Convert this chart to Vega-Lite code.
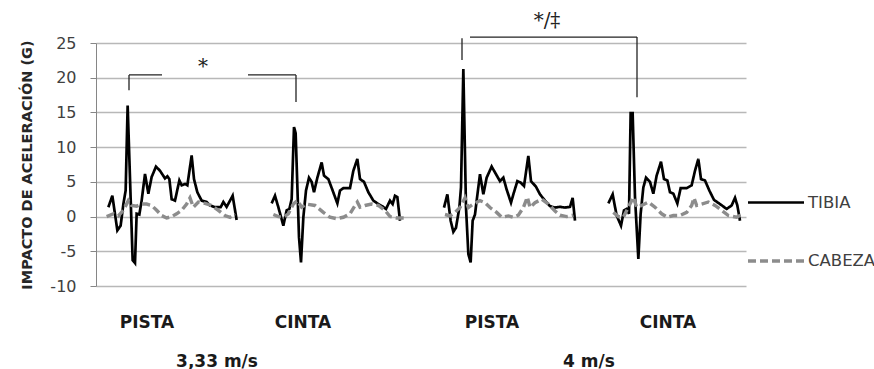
{
  "$schema": "https://vega.github.io/schema/vega-lite/v6.json",
  "width": 650,
  "height": 243,
  "autosize": {"type": "none"},
  "padding": {"left": 96, "top": 43, "right": 128, "bottom": 83},
  "background": "white",
  "config": {"view": {"stroke": null}},
  "datasets": {
    "series": [
      {"s":"TIBIA","g":1,"t":2.47,"v":1.35},{"s":"TIBIA","g":1,"t":3.27,"v":3.0},{"s":"TIBIA","g":1,"t":4.27,"v":-2.0},{"s":"TIBIA","g":1,"t":4.93,"v":-1.3},{"s":"TIBIA","g":1,"t":5.47,"v":1.8},{"s":"TIBIA","g":1,"t":5.93,"v":3.75},{"s":"TIBIA","g":1,"t":6.33,"v":16.0},{"s":"TIBIA","g":1,"t":7.33,"v":-6.3},{"s":"TIBIA","g":1,"t":7.8,"v":-6.7},{"s":"TIBIA","g":1,"t":8.13,"v":0.4},{"s":"TIBIA","g":1,"t":8.67,"v":0.3},{"s":"TIBIA","g":1,"t":9.13,"v":2.3},{"s":"TIBIA","g":1,"t":9.8,"v":6.15},{"s":"TIBIA","g":1,"t":10.47,"v":3.3},{"s":"TIBIA","g":1,"t":11.13,"v":5.7},{"s":"TIBIA","g":1,"t":12.0,"v":7.2},{"s":"TIBIA","g":1,"t":12.8,"v":6.6},{"s":"TIBIA","g":1,"t":13.8,"v":5.5},{"s":"TIBIA","g":1,"t":14.27,"v":5.8},{"s":"TIBIA","g":1,"t":14.67,"v":5.4},{"s":"TIBIA","g":1,"t":15.13,"v":2.5},{"s":"TIBIA","g":1,"t":15.8,"v":2.3},{"s":"TIBIA","g":1,"t":16.67,"v":5.2},{"s":"TIBIA","g":1,"t":17.13,"v":4.5},{"s":"TIBIA","g":1,"t":17.8,"v":4.7},{"s":"TIBIA","g":1,"t":18.27,"v":4.5},{"s":"TIBIA","g":1,"t":19.13,"v":8.8},{"s":"TIBIA","g":1,"t":19.6,"v":5.4},{"s":"TIBIA","g":1,"t":20.27,"v":3.5},{"s":"TIBIA","g":1,"t":21.13,"v":2.3},{"s":"TIBIA","g":1,"t":22.13,"v":2.1},{"s":"TIBIA","g":1,"t":22.8,"v":1.6},{"s":"TIBIA","g":1,"t":23.8,"v":1.35},{"s":"TIBIA","g":1,"t":24.93,"v":1.35},{"s":"TIBIA","g":1,"t":25.47,"v":2.1},{"s":"TIBIA","g":1,"t":26.13,"v":1.4},{"s":"TIBIA","g":1,"t":27.33,"v":3.0},{"s":"TIBIA","g":1,"t":28.13,"v":-0.5},
      {"s":"CABEZA","g":1,"t":2.13,"v":0},{"s":"CABEZA","g":1,"t":3.47,"v":0.4},{"s":"CABEZA","g":1,"t":4.47,"v":0.1},{"s":"CABEZA","g":1,"t":5.47,"v":0.9},{"s":"CABEZA","g":1,"t":6.47,"v":2.3},{"s":"CABEZA","g":1,"t":7.13,"v":1.6},{"s":"CABEZA","g":1,"t":8.13,"v":1.5},{"s":"CABEZA","g":1,"t":9.13,"v":1.8},{"s":"CABEZA","g":1,"t":10.13,"v":1.8},{"s":"CABEZA","g":1,"t":11.13,"v":1.6},{"s":"CABEZA","g":1,"t":12.13,"v":0.9},{"s":"CABEZA","g":1,"t":13.13,"v":0.15},{"s":"CABEZA","g":1,"t":14.13,"v":-0.2},{"s":"CABEZA","g":1,"t":15.13,"v":0},{"s":"CABEZA","g":1,"t":16.13,"v":0.4},{"s":"CABEZA","g":1,"t":17.13,"v":0.9},{"s":"CABEZA","g":1,"t":18.13,"v":1.8},{"s":"CABEZA","g":1,"t":18.8,"v":2.7},{"s":"CABEZA","g":1,"t":19.47,"v":1.35},{"s":"CABEZA","g":1,"t":20.47,"v":2.1},{"s":"CABEZA","g":1,"t":21.8,"v":1.9},{"s":"CABEZA","g":1,"t":23.13,"v":1.6},{"s":"CABEZA","g":1,"t":24.47,"v":0.9},{"s":"CABEZA","g":1,"t":25.8,"v":0.15},{"s":"CABEZA","g":1,"t":26.8,"v":-0.1},{"s":"CABEZA","g":1,"t":27.8,"v":0.4},
      {"s":"TIBIA","g":2,"t":35.13,"v":1.9},{"s":"TIBIA","g":2,"t":35.8,"v":3.0},{"s":"TIBIA","g":2,"t":36.47,"v":1.35},{"s":"TIBIA","g":2,"t":37.47,"v":-1.3},{"s":"TIBIA","g":2,"t":38.13,"v":0.9},{"s":"TIBIA","g":2,"t":38.67,"v":1.1},{"s":"TIBIA","g":2,"t":39.13,"v":2.5},{"s":"TIBIA","g":2,"t":39.6,"v":12.9},{"s":"TIBIA","g":2,"t":39.93,"v":12.0},{"s":"TIBIA","g":2,"t":40.6,"v":-3.0},{"s":"TIBIA","g":2,"t":41.0,"v":-6.6},{"s":"TIBIA","g":2,"t":41.47,"v":-0.1},{"s":"TIBIA","g":2,"t":42.0,"v":3.75},{"s":"TIBIA","g":2,"t":42.6,"v":5.6},{"s":"TIBIA","g":2,"t":43.13,"v":5.0},{"s":"TIBIA","g":2,"t":43.6,"v":3.5},{"s":"TIBIA","g":2,"t":44.27,"v":5.6},{"s":"TIBIA","g":2,"t":45.13,"v":7.8},{"s":"TIBIA","g":2,"t":45.6,"v":5.9},{"s":"TIBIA","g":2,"t":46.47,"v":5.4},{"s":"TIBIA","g":2,"t":47.33,"v":3.75},{"s":"TIBIA","g":2,"t":48.27,"v":1.9},{"s":"TIBIA","g":2,"t":48.8,"v":3.75},{"s":"TIBIA","g":2,"t":49.47,"v":4.1},{"s":"TIBIA","g":2,"t":50.8,"v":4.1},{"s":"TIBIA","g":2,"t":51.47,"v":6.6},{"s":"TIBIA","g":2,"t":52.27,"v":8.3},{"s":"TIBIA","g":2,"t":52.8,"v":5.4},{"s":"TIBIA","g":2,"t":53.6,"v":5.0},{"s":"TIBIA","g":2,"t":54.47,"v":3.5},{"s":"TIBIA","g":2,"t":55.47,"v":2.3},{"s":"TIBIA","g":2,"t":56.47,"v":1.8},{"s":"TIBIA","g":2,"t":57.33,"v":1.45},{"s":"TIBIA","g":2,"t":58.0,"v":1.1},{"s":"TIBIA","g":2,"t":58.8,"v":2.3},{"s":"TIBIA","g":2,"t":59.33,"v":1.8},{"s":"TIBIA","g":2,"t":59.8,"v":3.0},{"s":"TIBIA","g":2,"t":60.27,"v":2.8},{"s":"TIBIA","g":2,"t":60.8,"v":-0.6},
      {"s":"CABEZA","g":2,"t":35.47,"v":0.3},{"s":"CABEZA","g":2,"t":36.47,"v":0},{"s":"CABEZA","g":2,"t":37.47,"v":-0.1},{"s":"CABEZA","g":2,"t":38.47,"v":0.4},{"s":"CABEZA","g":2,"t":39.47,"v":1.8},{"s":"CABEZA","g":2,"t":40.27,"v":2.3},{"s":"CABEZA","g":2,"t":41.13,"v":1.35},{"s":"CABEZA","g":2,"t":42.13,"v":1.8},{"s":"CABEZA","g":2,"t":43.8,"v":1.6},{"s":"CABEZA","g":2,"t":45.47,"v":0.6},{"s":"CABEZA","g":2,"t":46.8,"v":-0.1},{"s":"CABEZA","g":2,"t":48.13,"v":-0.3},{"s":"CABEZA","g":2,"t":49.47,"v":-0.1},{"s":"CABEZA","g":2,"t":50.8,"v":0.4},{"s":"CABEZA","g":2,"t":51.8,"v":1.6},{"s":"CABEZA","g":2,"t":52.27,"v":2.1},{"s":"CABEZA","g":2,"t":52.8,"v":1.35},{"s":"CABEZA","g":2,"t":53.8,"v":1.6},{"s":"CABEZA","g":2,"t":55.13,"v":1.8},{"s":"CABEZA","g":2,"t":56.47,"v":1.6},{"s":"CABEZA","g":2,"t":57.8,"v":0.9},{"s":"CABEZA","g":2,"t":58.8,"v":0},{"s":"CABEZA","g":2,"t":60.13,"v":-0.2},{"s":"CABEZA","g":2,"t":62.13,"v":-0.2},
      {"s":"TIBIA","g":3,"t":69.6,"v":1.3},{"s":"TIBIA","g":3,"t":70.27,"v":3.2},{"s":"TIBIA","g":3,"t":70.93,"v":-0.6},{"s":"TIBIA","g":3,"t":71.47,"v":-2.2},{"s":"TIBIA","g":3,"t":72.0,"v":-1.6},{"s":"TIBIA","g":3,"t":72.67,"v":1.3},{"s":"TIBIA","g":3,"t":73.0,"v":4.2},{"s":"TIBIA","g":3,"t":73.47,"v":21.25},{"s":"TIBIA","g":3,"t":74.0,"v":1.3},{"s":"TIBIA","g":3,"t":74.47,"v":-5.4},{"s":"TIBIA","g":3,"t":74.93,"v":-6.6},{"s":"TIBIA","g":3,"t":75.33,"v":-0.6},{"s":"TIBIA","g":3,"t":75.8,"v":0.3},{"s":"TIBIA","g":3,"t":76.13,"v":2.3},{"s":"TIBIA","g":3,"t":76.8,"v":6.1},{"s":"TIBIA","g":3,"t":77.47,"v":3.2},{"s":"TIBIA","g":3,"t":78.13,"v":5.6},{"s":"TIBIA","g":3,"t":79.13,"v":7.2},{"s":"TIBIA","g":3,"t":80.0,"v":6.1},{"s":"TIBIA","g":3,"t":80.8,"v":5.1},{"s":"TIBIA","g":3,"t":81.47,"v":5.6},{"s":"TIBIA","g":3,"t":82.13,"v":3.9},{"s":"TIBIA","g":3,"t":83.0,"v":2.0},{"s":"TIBIA","g":3,"t":83.47,"v":3.2},{"s":"TIBIA","g":3,"t":84.27,"v":5.1},{"s":"TIBIA","g":3,"t":84.93,"v":4.9},{"s":"TIBIA","g":3,"t":85.6,"v":4.4},{"s":"TIBIA","g":3,"t":86.47,"v":8.75},{"s":"TIBIA","g":3,"t":87.0,"v":5.1},{"s":"TIBIA","g":3,"t":88.0,"v":4.3},{"s":"TIBIA","g":3,"t":88.8,"v":3.2},{"s":"TIBIA","g":3,"t":89.8,"v":2.3},{"s":"TIBIA","g":3,"t":90.8,"v":1.5},{"s":"TIBIA","g":3,"t":91.8,"v":1.3},{"s":"TIBIA","g":3,"t":92.8,"v":1.4},{"s":"TIBIA","g":3,"t":93.8,"v":1.3},{"s":"TIBIA","g":3,"t":94.8,"v":1.4},{"s":"TIBIA","g":3,"t":95.33,"v":2.7},{"s":"TIBIA","g":3,"t":95.8,"v":-0.6},
      {"s":"CABEZA","g":3,"t":69.8,"v":0.3},{"s":"CABEZA","g":3,"t":70.8,"v":0.1},{"s":"CABEZA","g":3,"t":71.8,"v":0.6},{"s":"CABEZA","g":3,"t":72.8,"v":1.3},{"s":"CABEZA","g":3,"t":73.8,"v":2.7},{"s":"CABEZA","g":3,"t":74.47,"v":1.3},{"s":"CABEZA","g":3,"t":75.47,"v":1.8},{"s":"CABEZA","g":3,"t":76.8,"v":2.3},{"s":"CABEZA","g":3,"t":77.8,"v":2.0},{"s":"CABEZA","g":3,"t":78.8,"v":1.3},{"s":"CABEZA","g":3,"t":80.13,"v":0.6},{"s":"CABEZA","g":3,"t":81.13,"v":-0.1},{"s":"CABEZA","g":3,"t":82.47,"v":0.1},{"s":"CABEZA","g":3,"t":83.47,"v":-0.1},{"s":"CABEZA","g":3,"t":84.47,"v":0.2},{"s":"CABEZA","g":3,"t":85.47,"v":1.3},{"s":"CABEZA","g":3,"t":86.27,"v":2.8},{"s":"CABEZA","g":3,"t":86.8,"v":1.3},{"s":"CABEZA","g":3,"t":87.8,"v":2.0},{"s":"CABEZA","g":3,"t":89.13,"v":2.5},{"s":"CABEZA","g":3,"t":90.47,"v":1.8},{"s":"CABEZA","g":3,"t":91.8,"v":0.8},{"s":"CABEZA","g":3,"t":92.8,"v":0.2},{"s":"CABEZA","g":3,"t":94.13,"v":0},{"s":"CABEZA","g":3,"t":95.47,"v":0.2},
      {"s":"TIBIA","g":4,"t":102.47,"v":1.9},{"s":"TIBIA","g":4,"t":103.33,"v":3.2},{"s":"TIBIA","g":4,"t":104.13,"v":0.15},{"s":"TIBIA","g":4,"t":105.0,"v":-1.3},{"s":"TIBIA","g":4,"t":105.6,"v":0.9},{"s":"TIBIA","g":4,"t":106.13,"v":1.1},{"s":"TIBIA","g":4,"t":106.6,"v":0.4},{"s":"TIBIA","g":4,"t":106.93,"v":14.9},{"s":"TIBIA","g":4,"t":107.33,"v":14.9},{"s":"TIBIA","g":4,"t":107.8,"v":2.8},{"s":"TIBIA","g":4,"t":108.47,"v":-6.1},{"s":"TIBIA","g":4,"t":108.93,"v":0.4},{"s":"TIBIA","g":4,"t":109.47,"v":4.2},{"s":"TIBIA","g":4,"t":110.0,"v":5.6},{"s":"TIBIA","g":4,"t":110.8,"v":5.0},{"s":"TIBIA","g":4,"t":111.47,"v":3.3},{"s":"TIBIA","g":4,"t":112.13,"v":5.9},{"s":"TIBIA","g":4,"t":113.0,"v":7.9},{"s":"TIBIA","g":4,"t":113.6,"v":5.4},{"s":"TIBIA","g":4,"t":114.27,"v":5.2},{"s":"TIBIA","g":4,"t":114.8,"v":3.5},{"s":"TIBIA","g":4,"t":115.47,"v":3.3},{"s":"TIBIA","g":4,"t":116.27,"v":1.9},{"s":"TIBIA","g":4,"t":116.93,"v":4.1},{"s":"TIBIA","g":4,"t":118.13,"v":4.1},{"s":"TIBIA","g":4,"t":119.13,"v":4.5},{"s":"TIBIA","g":4,"t":119.8,"v":6.6},{"s":"TIBIA","g":4,"t":120.47,"v":8.3},{"s":"TIBIA","g":4,"t":121.0,"v":5.4},{"s":"TIBIA","g":4,"t":121.8,"v":5.2},{"s":"TIBIA","g":4,"t":122.67,"v":3.75},{"s":"TIBIA","g":4,"t":123.6,"v":2.4},{"s":"TIBIA","g":4,"t":124.8,"v":1.8},{"s":"TIBIA","g":4,"t":126.13,"v":1.1},{"s":"TIBIA","g":4,"t":127.13,"v":1.6},{"s":"TIBIA","g":4,"t":127.8,"v":2.7},{"s":"TIBIA","g":4,"t":128.27,"v":1.6},{"s":"TIBIA","g":4,"t":128.8,"v":-0.6},
      {"s":"CABEZA","g":4,"t":103.47,"v":0.6},{"s":"CABEZA","g":4,"t":104.47,"v":0},{"s":"CABEZA","g":4,"t":105.47,"v":-0.1},{"s":"CABEZA","g":4,"t":106.47,"v":1.35},{"s":"CABEZA","g":4,"t":107.47,"v":2.8},{"s":"CABEZA","g":4,"t":108.13,"v":1.35},{"s":"CABEZA","g":4,"t":109.13,"v":1.6},{"s":"CABEZA","g":4,"t":110.47,"v":2.1},{"s":"CABEZA","g":4,"t":111.8,"v":1.35},{"s":"CABEZA","g":4,"t":113.13,"v":0.4},{"s":"CABEZA","g":4,"t":114.27,"v":-0.1},{"s":"CABEZA","g":4,"t":115.47,"v":0.15},{"s":"CABEZA","g":4,"t":116.8,"v":0.15},{"s":"CABEZA","g":4,"t":118.13,"v":0.6},{"s":"CABEZA","g":4,"t":119.13,"v":1.6},{"s":"CABEZA","g":4,"t":119.6,"v":2.7},{"s":"CABEZA","g":4,"t":120.13,"v":1.6},{"s":"CABEZA","g":4,"t":121.13,"v":1.8},{"s":"CABEZA","g":4,"t":122.47,"v":2.1},{"s":"CABEZA","g":4,"t":123.8,"v":1.6},{"s":"CABEZA","g":4,"t":125.13,"v":0.9},{"s":"CABEZA","g":4,"t":126.47,"v":0.15},{"s":"CABEZA","g":4,"t":128.13,"v":-0.1},{"s":"CABEZA","g":4,"t":129.13,"v":0.3}
    ],
    "brackets": [
      {"t":6.6,"t2":6.6,"v":18.2,"v2":20.4},
      {"t":6.6,"t2":13.2,"v":20.4,"v2":20.4},
      {"t":30.4,"t2":40.0,"v":20.4,"v2":20.4},
      {"t":40.0,"t2":40.0,"v":16.5,"v2":20.4},
      {"t":73.2,"t2":73.2,"v":22.55,"v2":25.7},
      {"t":74.8,"t2":108.2,"v":25.85,"v2":25.85},
      {"t":108.2,"t2":108.2,"v":17.2,"v2":25.85}
    ],
    "marks": [
      {"t":21.4,"v":21.6,"label":"*"},
      {"t":90.2,"v":28.2,"label":"*/‡"}
    ]
  },
  "encoding": {
    "x": {
      "field": "t", "type": "quantitative",
      "scale": {"domain": [0, 130], "nice": false, "zero": false},
      "axis": {
        "title": null, "grid": false, "ticks": false, "domain": false,
        "values": [10.1, 24.1, 41.3, 79.1, 98.5, 114.3],
        "labelExpr": "datum.value < 20 ? 'PISTA' : datum.value < 30 ? ['', '3,33 m/s'] : datum.value < 60 ? 'CINTA' : datum.value < 90 ? 'PISTA' : datum.value < 110 ? ['', '4 m/s'] : 'CINTA'",
        "labelFont": "DejaVu Sans", "labelFontWeight": "bold", "labelFontSize": 17,
        "labelColor": "#1a1a1a", "labelPadding": 28, "labelLineHeight": 39,
        "labelOverlap": false, "labelFlush": false, "labelBound": false, "labelAlign": "center"
      }
    },
    "y": {
      "field": "v", "type": "quantitative",
      "scale": {"domain": [-10, 25], "nice": false, "zero": false},
      "axis": {
        "title": "IMPACTO DE ACELERACIÓN (G)",
        "titleFont": "DejaVu Sans", "titleFontSize": 14.5, "titleFontWeight": "bold",
        "titleColor": "#262626", "titlePadding": 15,
        "values": [-10, -5, 0, 5, 10, 15, 20, 25],
        "labelExpr": "toString(datum.value)",
        "labelOverlap": false,
        "labelFont": "DejaVu Sans", "labelFontSize": 16, "labelColor": "#404040",
        "labelPadding": 14, "tickSize": 6, "tickColor": "#868686",
        "domainColor": "#868686", "gridColor": "#b8b8b8", "gridWidth": 1.3
      }
    }
  },
  "layer": [
    {
      "data": {"name": "series"},
      "mark": {"type": "line", "interpolate": "linear"},
      "encoding": {
        "color": {
          "field": "s", "type": "nominal",
          "scale": {"domain": ["TIBIA", "CABEZA"], "range": ["#000000", "#8c8c8c"]},
          "legend": {
            "title": null, "orient": "none", "legendX": 650, "legendY": 130,
            "symbolType": "stroke", "symbolSize": 3136, "symbolStrokeWidth": 2.8,
            "labelFont": "DejaVu Sans", "labelFontSize": 16.5, "labelColor": "#404040",
            "labelOffset": 2, "rowPadding": 20, "padding": 0, "labelLimit": 0
          }
        },
        "strokeDash": {
          "field": "s", "type": "nominal",
          "scale": {"domain": ["TIBIA", "CABEZA"], "range": [[1, 0], [8, 4]]}
        },
        "strokeWidth": {
          "field": "s", "type": "nominal",
          "scale": {"domain": ["TIBIA", "CABEZA"], "range": [2.7, 3.4]},
          "legend": null
        },
        "detail": {"field": "g", "type": "nominal"}
      }
    },
    {
      "data": {"name": "brackets"},
      "mark": {"type": "rule", "color": "#222222", "strokeWidth": 1.3},
      "encoding": {
        "x2": {"field": "t2"},
        "y2": {"field": "v2"}
      }
    },
    {
      "data": {"name": "marks"},
      "mark": {"type": "text", "font": "DejaVu Serif", "fontSize": 20, "baseline": "middle", "align": "center", "color": "#222222"},
      "encoding": {
        "text": {"field": "label"}
      }
    }
  ]
}
